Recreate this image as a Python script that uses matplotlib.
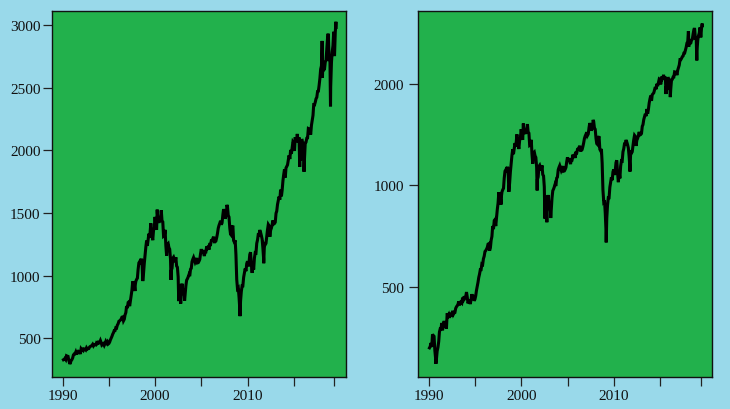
import numpy as np
import pandas as pd
import matplotlib
matplotlib.use("Agg")
import matplotlib.pyplot as plt

# S&P 500, month-end closes, Jan 1990 .. Jul 2019
closes = [
    329, 332, 340, 331, 361, 358, 356, 323, 306, 304, 322, 330,          # 1990
    344, 367, 375, 375, 390, 371, 388, 395, 388, 392, 375, 417,          # 1991
    409, 413, 404, 415, 415, 408, 424, 414, 418, 419, 431, 436,          # 1992
    439, 443, 452, 440, 450, 451, 448, 464, 459, 468, 462, 466,          # 1993
    482, 467, 446, 451, 457, 444, 458, 475, 463, 472, 454, 459,          # 1994
    470, 487, 501, 515, 533, 545, 562, 562, 584, 582, 605, 616,          # 1995
    636, 640, 646, 654, 669, 671, 640, 652, 687, 705, 757, 741,          # 1996
    786, 791, 757, 801, 848, 885, 954, 899, 947, 915, 955, 970,          # 1997
    980, 1049, 1102, 1112, 1091, 1134, 1121, 957, 1017, 1099, 1164, 1229,  # 1998
    1280, 1238, 1286, 1335, 1302, 1373, 1329, 1320, 1283, 1363, 1389, 1469,  # 1999
    1394, 1366, 1499, 1452, 1421, 1455, 1431, 1518, 1437, 1429, 1315, 1320,  # 2000
    1366, 1240, 1160, 1249, 1256, 1224, 1211, 1134, 1041, 1060, 1139, 1148,  # 2001
    1130, 1107, 1147, 1077, 1067, 990, 912, 916, 815, 886, 936, 880,      # 2002
    856, 841, 848, 917, 964, 975, 990, 1008, 996, 1051, 1058, 1112,       # 2003
    1131, 1145, 1126, 1107, 1121, 1141, 1102, 1104, 1115, 1130, 1174, 1212,  # 2004
    1181, 1204, 1181, 1157, 1192, 1191, 1234, 1220, 1229, 1207, 1249, 1248,  # 2005
    1280, 1281, 1295, 1311, 1270, 1270, 1277, 1304, 1336, 1378, 1401, 1418,  # 2006
    1438, 1407, 1421, 1482, 1531, 1503, 1455, 1474, 1527, 1549, 1481, 1468,  # 2007
    1379, 1331, 1323, 1386, 1400, 1280, 1267, 1283, 1165, 969, 896, 903,  # 2008
    826, 735, 798, 873, 919, 919, 987, 1021, 1057, 1036, 1096, 1115,      # 2009
    1074, 1104, 1169, 1187, 1089, 1031, 1102, 1049, 1141, 1183, 1181, 1258,  # 2010
    1286, 1327, 1326, 1364, 1345, 1321, 1292, 1219, 1131, 1253, 1247, 1258,  # 2011
    1312, 1366, 1408, 1398, 1310, 1362, 1379, 1407, 1441, 1412, 1416, 1426,  # 2012
    1498, 1515, 1569, 1598, 1631, 1606, 1686, 1633, 1682, 1757, 1806, 1848,  # 2013
    1783, 1859, 1872, 1884, 1924, 1960, 1931, 2003, 1972, 2018, 2068, 2059,  # 2014
    1995, 2105, 2068, 2086, 2107, 2063, 2104, 1972, 1920, 2079, 2080, 2044,  # 2015
    1940, 1932, 2060, 2065, 2097, 2099, 2174, 2171, 2168, 2126, 2199, 2239,  # 2016
    2279, 2364, 2363, 2384, 2412, 2423, 2470, 2472, 2519, 2575, 2648, 2674,  # 2017
    2824, 2714, 2641, 2648, 2705, 2718, 2816, 2902, 2914, 2712, 2760, 2507,  # 2018
    2704, 2784, 2834, 2946, 2752, 2942, 2980,                             # 2019
]

# intra-month extremes visible as spikes in the daily series
extreme_dates = ["1990-10-11", "1997-10-27", "1999-07-16", "2000-03-24",
                 "2000-09-01", "2001-09-21", "2002-07-23", "2002-10-09",
                 "2003-03-11", "2007-10-09", "2009-03-09", "2010-07-02",
                 "2011-10-03", "2015-05-21", "2015-08-25", "2016-02-11",
                 "2018-01-26", "2018-02-08", "2018-09-20", "2018-12-24",
                 "2019-07-26"]
extreme_values = [295, 877, 1418, 1527, 1521, 966, 797, 777, 800, 1565, 677,
                  1022, 1099, 2131, 1868, 1829, 2873, 2581, 2931, 2351, 3026]

year_ticks = [1990, 1995, 2000, 2005, 2010, 2015]
year_labels = ["1990", "", "2000", "", "2010", ""]
end_tick = "2019-05-26"

months = pd.date_range("1990-01-31", periods=len(closes), freq="ME")
s = pd.concat([pd.Series(closes, index=months),
               pd.Series(extreme_values, index=pd.to_datetime(extreme_dates))]).sort_index()

BG = "#99d9ea"
GREEN = "#22b14c"

plt.rcParams["font.family"] = ["Liberation Serif", "DejaVu Serif"]
plt.rcParams["font.size"] = 11

fig = plt.figure(figsize=(7.3, 4.1), dpi=100, facecolor=BG)
ax1 = fig.add_axes([0.0716, 0.0773, 0.4023, 0.8941])
ax2 = fig.add_axes([0.5730, 0.0773, 0.4027, 0.8941])

tick_pos = [pd.Timestamp(f"{y}-01-01") for y in year_ticks] + [pd.Timestamp(end_tick)]
tick_lab = year_labels + [""]
xlo, xhi = pd.Timestamp("1988-11-15"), pd.Timestamp("2020-08-25")

for ax in (ax1, ax2):
    ax.set_facecolor(GREEN)
    ax.plot(s.index, s.values, color="black", lw=2.2, solid_joinstyle="miter")
    ax.set_xlim(xlo, xhi)
    ax.set_xticks(tick_pos)
    ax.set_xticklabels(tick_lab)
    ax.tick_params(axis="both", length=6.5, width=0.9, color="#222222", pad=2,
                   labelcolor="#111111")
    for sp in ax.spines.values():
        sp.set_linewidth(1.0)
        sp.set_color("#111111")

ax1.set_ylim(189, 3114)
ax1.set_yticks([500, 1000, 1500, 2000, 2500, 3000])

ax2.set_yscale("log")
ax2.set_ylim(269, 3303)
ax2.set_yticks([500, 1000, 2000])
ax2.set_yticklabels(["500", "1000", "2000"])
ax2.yaxis.set_minor_locator(matplotlib.ticker.NullLocator())
ax2.tick_params(axis="y", pad=4)

fig.savefig("out.png", dpi=100, facecolor=BG)
